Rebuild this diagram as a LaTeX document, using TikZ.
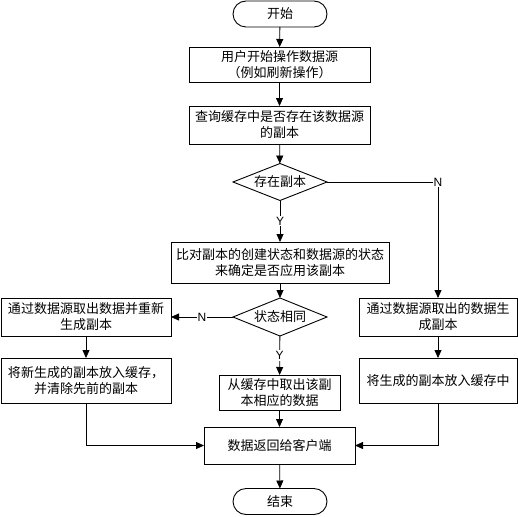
\documentclass[tikz,border=0pt]{standalone}
\usepackage{fontspec}
\setmainfont{Liberation Sans}
\newfontfamily\cjk{Noto Sans CJK SC}
\usetikzlibrary{shapes.geometric,shapes.misc,arrows.meta}
\begin{document}
\begin{tikzpicture}[x=1pt,y=-1pt,
  every node/.style={inner sep=0pt,outer sep=0pt},
  base/.style={draw=black,line width=0.9pt,align=center,font=\cjk\fontsize{13}{16}\selectfont},
  procbox/.style={base,rectangle},
  term/.style={base,rounded rectangle},
  decide/.style={base,diamond,aspect=2.5},
  conn/.style={draw=black,line width=0.8pt,-{Triangle[length=8pt,width=7pt]}},
  lbl/.style={fill=white,font=\fontsize{12}{12}\selectfont,inner sep=1pt}]
\useasboundingbox (0,0) rectangle (518,516);
\node[term,minimum width=94pt,minimum height=26pt] (start) at (280,14) {开始};
\node[procbox,minimum width=181pt,minimum height=35pt] (b1) at (279.5,64.5) {用户开始操作数据源\\（例如刷新操作）};
\node[procbox,minimum width=181pt,minimum height=38pt] (b2) at (279.5,125) {查询缓存中是否存在该数据源\\的副本};
\node[decide,minimum width=94pt,minimum height=37pt] (d1) at (280,182) {存在副本};
\node[procbox,minimum width=218pt,minimum height=41pt] (b3) at (280,262.5) {比对副本的创建状态和数据源的状态\\来确定是否应用该副本};
\node[decide,minimum width=94pt,minimum height=38pt] (d2) at (280,317) {状态相同};
\node[procbox,minimum width=170pt,minimum height=38pt] (l1) at (86,317) {通过数据源取出数据并重新\\生成副本};
\node[procbox,minimum width=170pt,minimum height=45pt] (l2) at (86,380.5) {将新生成的副本放入缓存，\\并清除先前的副本};
\node[procbox,minimum width=121pt,minimum height=35pt] (m) at (279.5,392.5) {从缓存中取出该副\\本相应的数据};
\node[procbox,minimum width=158pt,minimum height=38pt] (r1) at (438,317) {通过数据源取出的数据生\\成副本};
\node[procbox,minimum width=158pt,minimum height=45pt] (r2) at (438,380.5) {将生成的副本放入缓存中};
\node[procbox,minimum width=151pt,minimum height=37pt] (f) at (279.5,445.5) {数据返回给客户端};
\node[term,minimum width=94pt,minimum height=26pt] (end) at (280,501.5) {结束};
\draw[conn] (start) -- (b1);
\draw[conn] (b1) -- (b2);
\draw[conn] (b2) -- (d1);
\draw[conn] (d1) -- node[lbl,pos=0.5]{Y} (b3);
\draw[conn] (d1.east) -| node[lbl,pos=0.5]{N} (r1.north);
\draw[conn] (b3) -- (d2);
\draw[conn] (d2.west) -- node[lbl,pos=0.5]{N} (l1.east);
\draw[conn] (d2) -- node[lbl,pos=0.5]{Y} (m);
\draw[conn] (l1) -- (l2);
\draw[conn] (r1) -- (r2);
\draw[conn] (m) -- (f);
\draw[conn] (l2.south) |- (f.west);
\draw[conn] (r2.south) |- (f.east);
\draw[conn] (f) -- (end);
\end{tikzpicture}
\end{document}
